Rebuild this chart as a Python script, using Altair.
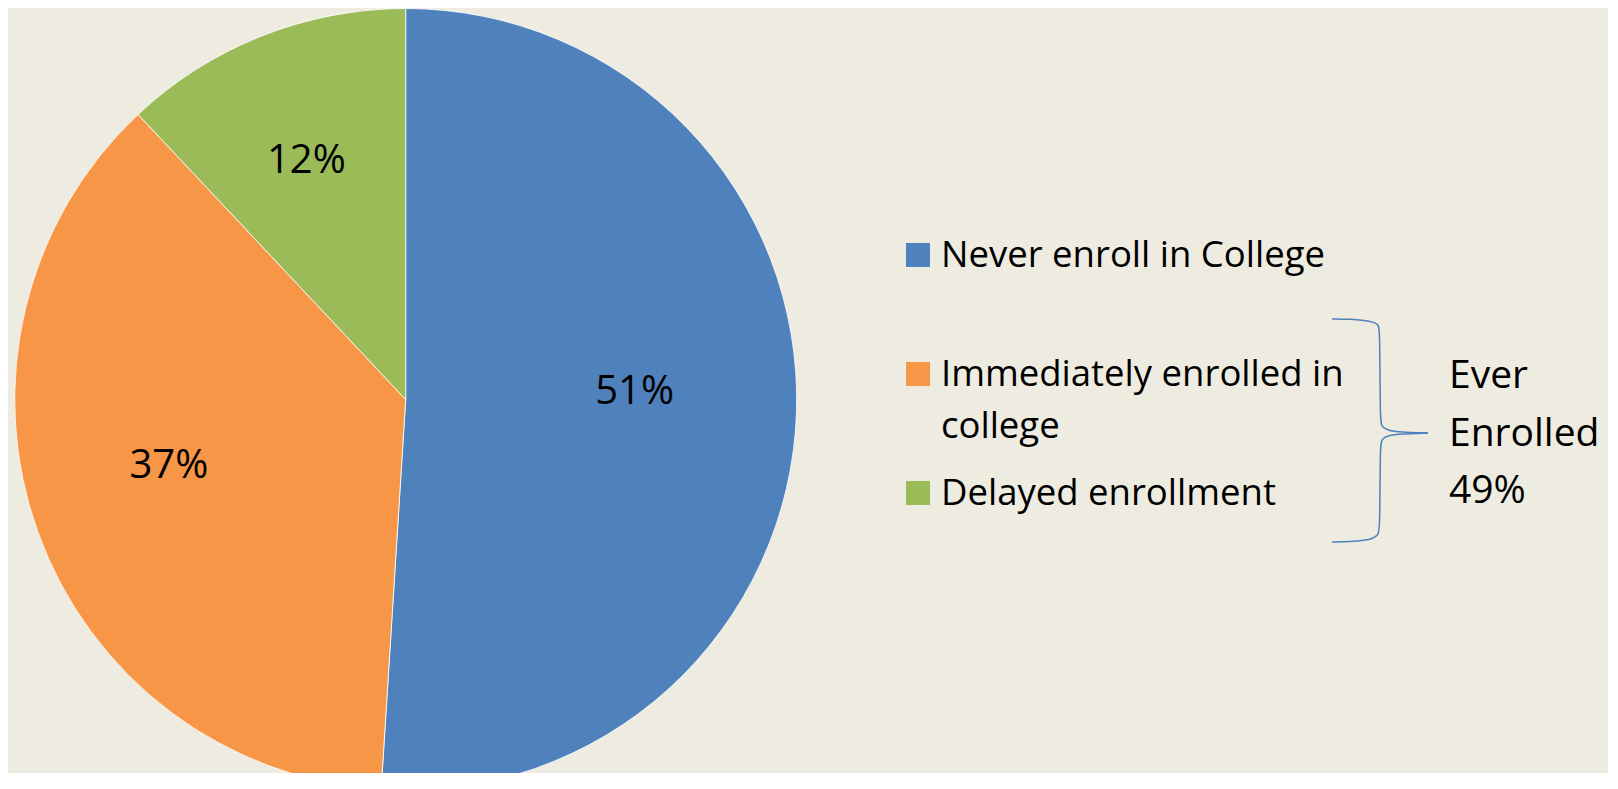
import altair as alt
import pandas as pd

# ---- data ----
categories = ["Never enroll in College", "Immediately enrolled in college", "Delayed enrollment"]
legend_text = ["Never enroll in College", "Immediately enrolled in\ncollege", "Delayed enrollment"]
values = [51, 37, 12]
pct_labels = ["51%", "37%", "12%"]
colors = ["#4F81BD", "#F79646", "#9BBB59"]
slice_order = [0, 1, 2]
bracket_text = "Ever\nEnrolled\n49%"

# brace annotation outline (canvas pixels), two halves meeting at the tip
brace_x = [1324, 1342, 1357, 1365, 1370, 1372, 1372, 1374, 1380, 1392, 1420,
           1420, 1392, 1380, 1374, 1372, 1372, 1370, 1365, 1357, 1342, 1324]
brace_y = [311, 311.2, 312.3, 314, 316.5, 320, 414, 419, 422.5, 424, 425,
           425, 426, 427.5, 431, 436, 522, 527, 530.5, 532.5, 533.6, 534]
brace_part = ["top"] * 11 + ["bottom"] * 11

W, H = 1600, 765
CX, CY, R = 397.7, 391.5, 391
FONT = "Open Sans"

df = pd.DataFrame({
    "category": categories,
    "legend": legend_text,
    "value": values,
    "label": pct_labels,
    "order": slice_order,
})
brace_df = pd.DataFrame({"x": brace_x, "y": brace_y, "part": brace_part,
                         "i": list(range(len(brace_x)))})
bracket_df = pd.DataFrame({"t": [bracket_text]})

color_scale = alt.Scale(domain=categories, range=colors)
base = alt.Chart(df)

pie = base.mark_arc(radius=R, stroke="#FFFFFF", strokeWidth=0.8).encode(
    theta=alt.Theta("value:Q", stack=True),
    color=alt.Color("category:N", scale=color_scale, legend=None),
    order=alt.Order("order:Q"),
    x=alt.value(CX),
    y=alt.value(CY),
)

pie_labels = base.mark_text(radius=240, dx=-11, dy=-15, font=FONT, fontSize=40, color="#000000").encode(
    theta=alt.Theta("value:Q", stack=True),
    detail="category:N",
    order=alt.Order("order:Q"),
    text="label:N",
    x=alt.value(CX),
    y=alt.value(CY),
)

leg_y = alt.Y("category:N", scale=alt.Scale(domain=categories, range=[247, 485], padding=0), axis=None)

squares = base.mark_square(size=576, opacity=1).encode(
    x=alt.value(910),
    y=leg_y,
    color=alt.Color("category:N", scale=color_scale, legend=None),
)

leg_text = base.mark_text(align="left", baseline="alphabetic", dy=12, font=FONT, fontSize=36.5,
                          lineBreak="\n", lineHeight=52, color="#000000").encode(
    x=alt.value(933),
    y=leg_y,
    text="legend:N",
)

brace = alt.Chart(brace_df).mark_line(color="#4F81BD", strokeWidth=1.5, interpolate="basis").encode(
    x=alt.X("x:Q", scale=alt.Scale(domain=[0, W], range=[0, W], nice=False, zero=False), axis=None),
    y=alt.Y("y:Q", scale=alt.Scale(domain=[0, H], range=[0, H], nice=False, zero=False), axis=None),
    detail="part:N",
    order="i:Q",
)

bracket_label = alt.Chart(bracket_df).mark_text(align="left", baseline="alphabetic", font=FONT,
                                                 fontSize=39, lineBreak="\n", lineHeight=57.5,
                                                 color="#000000").encode(
    x=alt.value(1441),
    y=alt.value(380),
    text="t:N",
)

chart = alt.layer(pie, pie_labels, squares, leg_text, brace, bracket_label).resolve_scale(
    x="independent", y="independent"
).properties(
    width=W, height=H, padding=0, background="#EEECE1",
    autosize=alt.AutoSizeParams(type="none"),
).configure_view(stroke=None)

chart.save("out.html", embed_options={"renderer": "svg", "actions": False})
